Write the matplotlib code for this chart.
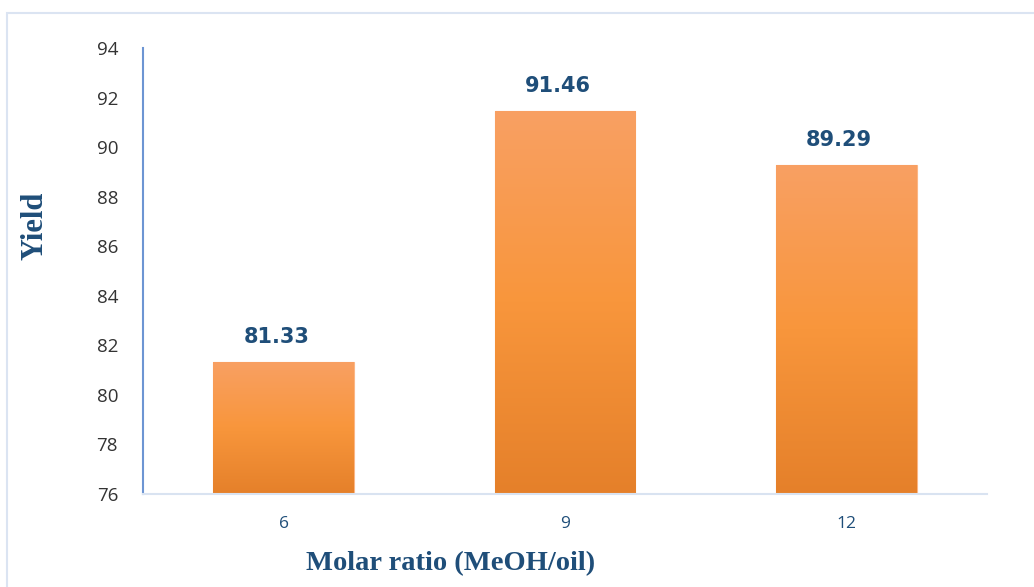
import matplotlib.pyplot as plt
import numpy as np
from matplotlib.colors import LinearSegmentedColormap
from matplotlib.patches import Rectangle

ratios = ["6", "9", "12"]
yields = [81.33, 91.46, 89.29]
y_ticks = [76, 78, 80, 82, 84, 86, 88, 90, 92, 94]

W, H = 1034, 587
fig = plt.figure(figsize=(W / 100, H / 100), dpi=100)

# light frame around the chart area
fig.patches.append(Rectangle((7 / W, -0.1), 1.2, 1 - 13 / H + 0.1,
                             transform=fig.transFigure, fill=False,
                             edgecolor="#dbe4f2", linewidth=1.5))

ax = fig.add_axes([143 / W, 1 - 494 / H, (987 - 143) / W, (494 - 48) / H])
x = np.arange(len(ratios))
bars = ax.bar(x, yields, width=0.5, bottom=0, color="#f7953c",
              edgecolor="#fbb685", linewidth=0.8)
ax.set_xlim(-0.5, len(ratios) - 0.5)
ax.set_ylim(y_ticks[0], y_ticks[-1])

# vertical orange gradient inside each bar
grad = LinearSegmentedColormap.from_list(
    "bar_grad", ["#e5802a", "#f8963c", "#f9a063"])
g = np.linspace(0, 1, 256).reshape(-1, 1)
for b in bars:
    x0, w = b.get_x(), b.get_width()
    im = ax.imshow(g, cmap=grad, origin="lower", aspect="auto",
                   extent=[x0, x0 + w, y_ticks[0], b.get_height()],
                   zorder=b.get_zorder())
    im.set_clip_path(b)

for xi, v in zip(x, yields):
    ax.text(xi - 0.025, v + 0.6, f"{v:.2f}", ha="center", va="bottom",
            fontsize=15, fontweight="bold", color="#1f4e79",
            family="DejaVu Sans")

ax.set_xticks(x)
ax.set_xticklabels(ratios, color="#1f4e79", fontsize=12.5, family="Open Sans")
ax.set_yticks(y_ticks)
ax.set_yticklabels([str(t) for t in y_ticks], color="#333333", fontsize=13.5,
                   family="Open Sans")
ax.tick_params(axis="both", length=0)
ax.tick_params(axis="y", pad=18)
ax.tick_params(axis="x", pad=16)

for side in ("top", "right"):
    ax.spines[side].set_visible(False)
ax.spines["left"].set_color("#6d95d3")
ax.spines["left"].set_linewidth(1.5)
ax.spines["bottom"].set_color("#d9e3f1")
ax.spines["bottom"].set_linewidth(1.5)

fig.text(35 / W, 1 - 226 / H, "Yield", rotation=90, ha="center", va="center",
         fontsize=22, fontweight="bold", color="#1f4e79",
         family="Liberation Serif")
fig.text(451 / W, 1 - 564 / H, "Molar ratio (MeOH/oil)", ha="center",
         va="center", fontsize=20.5, fontweight="bold", color="#1f4e79",
         family="Liberation Serif")

fig.savefig("out.png", dpi=100)
